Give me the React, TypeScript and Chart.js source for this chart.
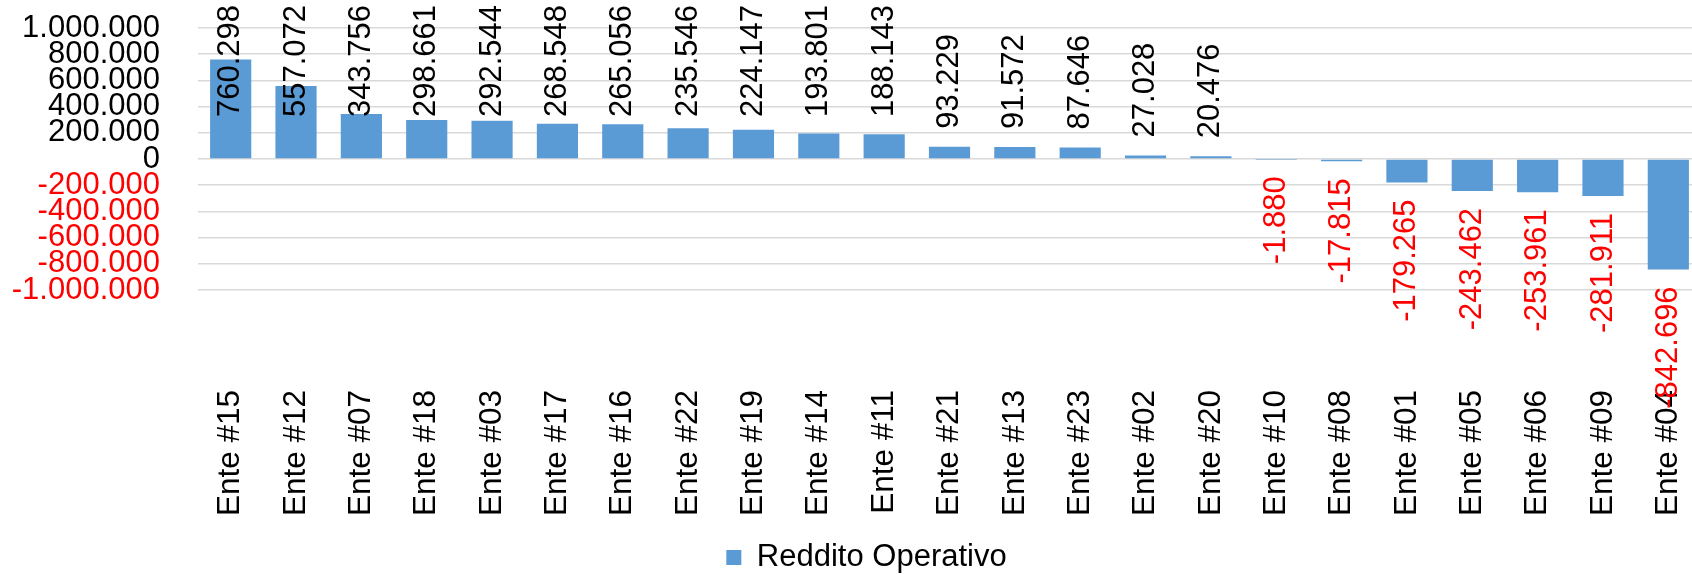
import React, { useEffect, useRef } from 'react';
import { Chart, registerables } from 'chart.js';

Chart.register(...registerables);

const categories = [
  'Ente #15', 'Ente #12', 'Ente #07', 'Ente #18', 'Ente #03', 'Ente #17',
  'Ente #16', 'Ente #22', 'Ente #19', 'Ente #14', 'Ente #11', 'Ente #21',
  'Ente #13', 'Ente #23', 'Ente #02', 'Ente #20', 'Ente #10', 'Ente #08',
  'Ente #01', 'Ente #05', 'Ente #06', 'Ente #09', 'Ente #04',
];

const redditoOperativo = [
  760298, 557072, 343756, 298661, 292544, 268548,
  265056, 235546, 224147, 193801, 188143, 93229,
  91572, 87646, 27028, 20476, -1880, -17815,
  -179265, -243462, -253961, -281911, -842696,
];

const seriesLabel = 'Reddito Operativo';
const yMin = -1000000;
const yMax = 1000000;
const yStep = 200000;

const FONT_FAMILY = '"Liberation Sans", Arial, Helvetica, sans-serif';
const FONT_SIZE = 31;
const BAR_COLOR = '#5b9bd5';

function fmt(v: number): string {
  const s = Math.round(Math.abs(v)).toString().replace(/\B(?=(\d{3})+(?!\d))/g, '.');
  return (v < 0 ? '-' : '') + s;
}

const dataLabelPlugin = {
  id: 'dataLabels',
  afterDatasetsDraw(chart: any) {
    const ctx = chart.ctx;
    const meta = chart.getDatasetMeta(0);
    const data = chart.data.datasets[0].data as number[];
    ctx.save();
    ctx.font = `${FONT_SIZE}px ${FONT_FAMILY}`;
    ctx.textAlign = 'left';
    ctx.textBaseline = 'middle';
    meta.data.forEach((el: any, i: number) => {
      const v = data[i];
      const txt = fmt(v);
      const w = ctx.measureText(txt).width;
      let bottom: number;
      if (v >= 0) {
        bottom = el.y - 18;
        if (bottom - w < 5) bottom = 5 + w;
      } else {
        bottom = el.y + 17 + w;
      }
      ctx.fillStyle = v < 0 ? '#ff0000' : '#000000';
      ctx.save();
      ctx.translate(el.x, bottom);
      ctx.rotate(-Math.PI / 2);
      ctx.fillText(txt, 0, 0);
      ctx.restore();
    });
    ctx.restore();
  },
};

export default function App() {
  const canvasRef = useRef<HTMLCanvasElement | null>(null);

  useEffect(() => {
    if (!canvasRef.current) return;
    const chart = new Chart(canvasRef.current, {
      type: 'bar',
      data: {
        labels: categories,
        datasets: [
          {
            label: seriesLabel,
            data: redditoOperativo,
            backgroundColor: BAR_COLOR,
            borderWidth: 0,
            barPercentage: 0.63,
            categoryPercentage: 1,
          },
        ],
      },
      options: {
        animation: false,
        responsive: true,
        maintainAspectRatio: false,
        layout: { padding: { top: 28, left: 32, right: 0, bottom: -9 } },
        plugins: {
          legend: {
            position: 'bottom',
            labels: {
              boxWidth: 15,
              boxHeight: 15,
              padding: 0,
              color: '#000000',
              font: { size: FONT_SIZE, family: FONT_FAMILY },
            },
          },
          tooltip: { enabled: false },
        },
        scales: {
          x: {
            grid: { display: false, drawTicks: false },
            border: { display: false },
            ticks: {
              autoSkip: false,
              maxRotation: 90,
              minRotation: 90,
              padding: 100,
              color: '#000000',
              font: { size: 31.5, family: FONT_FAMILY },
            },
            afterFit: (s: any) => {
              s.height = 252;
              s.paddingLeft = 0;
              s.paddingRight = 0;
            },
          },
          y: {
            min: yMin,
            max: yMax,
            grid: { color: '#d9d9d9', lineWidth: 1.5, drawTicks: false },
            border: { display: false },
            ticks: {
              stepSize: yStep,
              autoSkip: false,
              padding: 38,
              color: (c: any) => (c.tick && c.tick.value < 0 ? '#ff0000' : '#000000'),
              font: { size: FONT_SIZE, family: FONT_FAMILY },
              callback: (v: any) => fmt(Number(v)),
            },
            afterFit: (s: any) => {
              s.width = 166;
              s.paddingTop = 0;
              s.paddingBottom = 0;
              s._computeLabelArea = () => undefined;
            },
          },
        },
      },
      plugins: [dataLabelPlugin],
    });
    return () => chart.destroy();
  }, []);

  return (
    <div style={{ position: 'absolute', left: 0, top: 0, width: 1692, height: 574, overflow: 'hidden', background: '#ffffff' }}>
      <div style={{ position: 'relative', width: 1701, height: 574 }}>
        <canvas ref={canvasRef} />
      </div>
    </div>
  );
}
